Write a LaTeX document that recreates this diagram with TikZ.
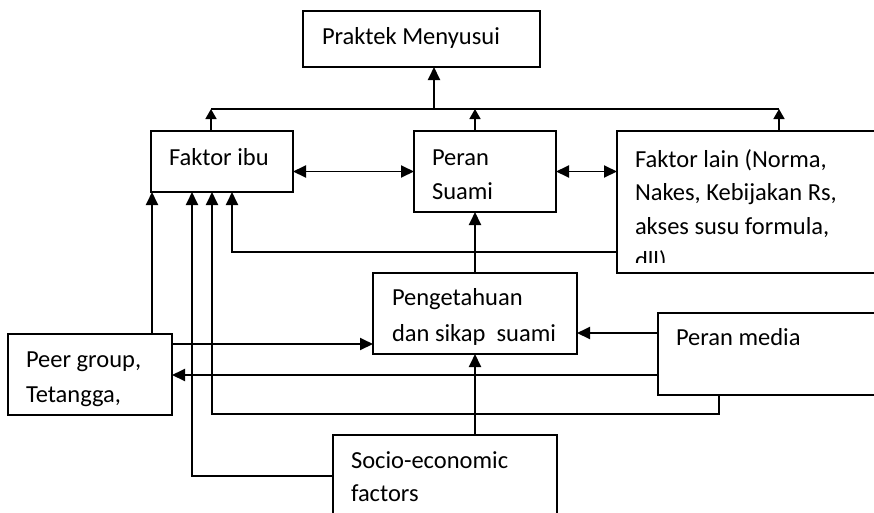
\documentclass[tikz,border=0pt]{standalone}
\usepackage{fontspec}
\setmainfont{Carlito}
\usetikzlibrary{arrows.meta}
\begin{document}
\begin{tikzpicture}[x=1pt,y=-1pt,
  box/.style={draw,line width=1.1pt,rectangle,anchor=north west,inner sep=0pt,outer sep=0pt},
  txt/.style={anchor=base west,inner sep=0pt,outer sep=0pt,font=\fontsize{24.5}{34}\selectfont},
  conn/.style={line width=1.9pt,-{Triangle[length=13pt,width=12pt]}},
  dconn/.style={line width=1.9pt,{Triangle[length=13pt,width=12pt]}-{Triangle[length=13pt,width=12pt]}},
  busarrow/.style={line width=1.6pt,-{Triangle[length=10pt,width=11pt]}},
  busline/.style={line width=1.2pt}
]
\useasboundingbox (0,0) rectangle (874,512);
\clip (0,0) rectangle (874,512);

% boxes
\node[box,minimum width=237pt,minimum height=56pt] (pm) at (303,11) {};
\node[box,minimum width=142pt,minimum height=61pt] (fi) at (151,131) {};
\node[box,minimum width=142pt,minimum height=81pt] (ps) at (414,131) {};
\node[box,minimum width=263pt,minimum height=142pt] (fl) at (617,131) {};
\node[box,minimum width=204pt,minimum height=81pt] (pk) at (373,273) {};
\node[box,minimum width=164pt,minimum height=81pt] (pg) at (8,334) {};
\node[box,minimum width=222pt,minimum height=82pt] (med) at (658,313) {};
\node[box,minimum width=224pt,minimum height=85pt] (se) at (333,435) {};

% texts
\node[txt] (tpm) at (322,44) {Praktek Menyusui};
\node[txt] (tfi) at (169,165) {Faktor ibu};
\node[txt] (tps1) at (432,165) {Peran};
\node[txt] (tps2) at (432,199) {Suami};
\node[txt] (tfl1) at (635,167) {Faktor lain (Norma,};
\node[txt] (tfl2) at (635,200) {Nakes, Kebijakan Rs,};
\node[txt] (tfl3) at (635,234) {akses susu formula,};
\begin{scope}
\clip (617,131) rectangle (880,262);
\node[txt] (tfl4) at (635,268) {dll)};
\end{scope}
\node[txt] (tpk1) at (392,305) {Pengetahuan};
\node[txt] (tpk2) at (392,341) {dan sikap\ \ suami};
\node[txt] (tpg1) at (26,367) {Peer group,};
\node[txt] (tpg2) at (26,402) {Tetangga,};
\node[txt] (tmed) at (676,345) {Peran media};
\node[txt] (tse1) at (351,468) {Socio-economic};
\node[txt] (tse2) at (351,501) {factors};

% helper coordinates
\coordinate (busL) at (211,109);
\coordinate (busR) at (779,109);
\coordinate (busM) at (434,109);
\coordinate (vPG) at (152,0);
\coordinate (vSE) at (192,0);
\coordinate (vMD) at (212,0);
\coordinate (vFL) at (232,0);
\coordinate (vMD2) at (719,0);
\coordinate (hFL) at (0,252);
\coordinate (hPK) at (0,344);
\coordinate (hMD) at (0,333);
\coordinate (hPG) at (0,375);
\coordinate (hMD2) at (0,414);
\coordinate (hSE) at (0,476);

% top bus
\draw[busline] (busL) -- (busR);
\draw[conn] (busM) -- (busM |- pm.south);
\draw[busarrow] (fi.north -| busL) -- (busL);
\draw[busarrow] (ps.north -| pk.north) -- (busM -| pk.north);
\draw[busarrow] (fl.north -| busR) -- (busR);

% horizontal double arrows
\draw[dconn] (fi.east |- ps.center) -- (ps.west);
\draw[dconn] (ps.east) -- (fl.west |- ps.center);

% Pengetahuan -> Peran Suami
\draw[conn] (pk.north) -- (pk.north |- ps.south);
% Socio -> Pengetahuan
\draw[conn] (pk.south |- se.north) -- (pk.south);

% Peer group -> Faktor ibu
\draw[conn] (vPG |- pg.north) -- (vPG |- fi.south);
% Peer group -> Pengetahuan
\draw[conn] (pg.east |- hPK) -- (pk.west |- hPK);
% Peran media -> Peer group
\draw[conn] (med.west |- hPG) -- (pg.east |- hPG);
% Peran media -> Pengetahuan
\draw[conn] (med.west |- hMD) -- (pk.east |- hMD);
% Faktor lain -> Faktor ibu
\draw[conn] (fl.west |- hFL) -- (vFL |- hFL) -- (vFL |- fi.south);
% Peran media -> Faktor ibu
\draw[conn] (vMD2 |- med.south) -- (vMD2 |- hMD2) -- (vMD |- hMD2) -- (vMD |- fi.south);
% Socio -> Faktor ibu
\draw[conn] (se.west |- hSE) -- (vSE |- hSE) -- (vSE |- fi.south);
\end{tikzpicture}
\end{document}
